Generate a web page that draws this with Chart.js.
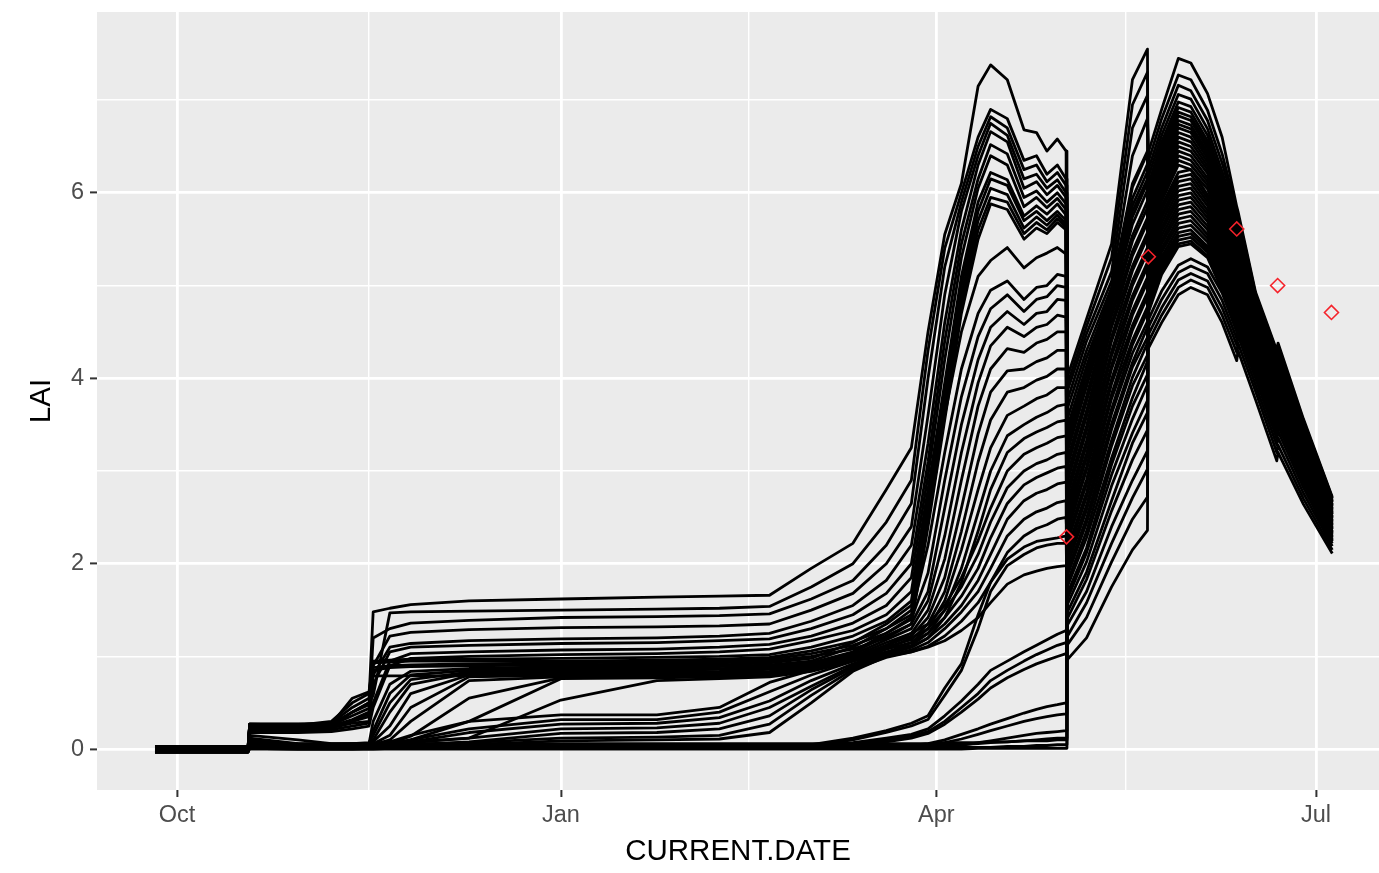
<!DOCTYPE html>
<html>
<head>
<meta charset="utf-8">
<script src="https://cdn.jsdelivr.net/npm/chart.js@4.4.1/dist/chart.umd.min.js"></script>
<style>
  html, body { margin: 0; padding: 0; background: #ffffff; }
  canvas { display: block; }
</style>
</head>
<body>
<canvas id="lai" width="1379" height="873"></canvas>
<script>
// Simulation days, counted from 1 October (day 0)
const autumnDays = [-5.3, 17, 17.4, 29, 37, 42, 46, 47, 51, 56, 70, 92, 115, 130, 142];
const springDays = [152, 162, 170, 176, 180, 184, 188, 192, 195, 199, 203, 206, 208.5, 211, 213.1];
const firstUpdateDays = [213.3, 218, 224, 229, 232.6];
const secondUpdateDays = [232.9, 236, 240, 243, 247, 250.5, 254, 254.3, 258.5, 263.6, 263.9, 270, 276.9];

// LAI of each ensemble member, one row per member, on the day grids above
const autumnLAI = [
  [0.01, 0.01, 0.27, 0.27, 0.28, 0.45, 0.55, 1.48, 1.52, 1.56, 1.60, 1.62, 1.64, 1.65, 1.66],
  [-0.02, -0.02, 0.26, 0.26, 0.27, 0.40, 0.50, 0.58, 1.47, 1.48, 1.49, 1.50, 1.51, 1.52, 1.54],
  [0.02, 0.02, 0.25, 0.25, 0.26, 0.36, 0.44, 1.20, 1.30, 1.36, 1.39, 1.42, 1.43, 1.44, 1.46],
  [-0.03, -0.03, 0.27, 0.26, 0.26, 0.30, 0.35, 0.90, 1.22, 1.26, 1.29, 1.31, 1.32, 1.33, 1.35],
  [0.00, 0.00, 0.24, 0.24, 0.25, 0.32, 0.40, 0.80, 1.10, 1.14, 1.17, 1.19, 1.20, 1.22, 1.25],
  [0.03, 0.03, 0.22, 0.22, 0.23, 0.28, 0.30, 0.70, 1.05, 1.10, 1.12, 1.14, 1.15, 1.17, 1.19],
  [-0.01, -0.01, 0.20, 0.20, 0.21, 0.25, 0.28, 0.50, 0.95, 1.03, 1.05, 1.07, 1.08, 1.10, 1.13],
  [0.02, 0.02, 0.18, 0.18, 0.19, 0.22, 0.25, 0.45, 0.90, 0.98, 1.00, 1.02, 1.03, 1.05, 1.08],
  [-0.02, -0.02, 0.27, 0.27, 0.27, 0.55, 0.62, 0.95, 0.96, 0.97, 0.97, 0.98, 0.99, 1.00, 1.02],
  [0.01, 0.01, 0.26, 0.26, 0.30, 0.50, 0.60, 0.93, 0.94, 0.95, 0.95, 0.95, 0.96, 0.97, 0.99],
  [0.03, 0.03, 0.25, 0.24, 0.25, 0.40, 0.48, 0.88, 0.90, 0.91, 0.92, 0.93, 0.94, 0.95, 0.97],
  [-0.03, -0.03, 0.23, 0.23, 0.24, 0.30, 0.38, 0.85, 0.88, 0.89, 0.90, 0.91, 0.92, 0.93, 0.95],
  [0.02, 0.02, 0.05, 0.04, 0.04, 0.05, 0.06, 0.30, 0.70, 0.84, 0.87, 0.89, 0.90, 0.91, 0.93],
  [0.00, 0.00, 0.02, 0.01, 0.03, 0.04, 0.05, 0.20, 0.60, 0.80, 0.85, 0.87, 0.88, 0.89, 0.91],
  [-0.01, -0.01, 0.15, 0.10, 0.06, 0.06, 0.07, 0.15, 0.50, 0.75, 0.83, 0.85, 0.86, 0.87, 0.89],
  [0.03, 0.03, 0.12, 0.06, 0.05, 0.06, 0.06, 0.10, 0.40, 0.70, 0.82, 0.84, 0.85, 0.86, 0.88],
  [-0.02, -0.02, 0.10, 0.05, 0.05, 0.05, 0.05, 0.08, 0.25, 0.60, 0.80, 0.82, 0.83, 0.84, 0.86],
  [0.01, 0.01, 0.08, 0.03, 0.03, 0.04, 0.04, 0.06, 0.15, 0.45, 0.78, 0.80, 0.81, 0.82, 0.84],
  [0.00, 0.00, 0.27, 0.27, 0.27, 0.40, 0.50, 0.79, 0.79, 0.79, 0.79, 0.79, 0.80, 0.81, 0.83],
  [0.02, 0.02, 0.06, 0.02, 0.03, 0.03, 0.04, 0.05, 0.10, 0.30, 0.74, 0.78, 0.79, 0.80, 0.82],
  [-0.03, -0.03, 0.04, 0.02, 0.03, 0.03, 0.03, 0.04, 0.06, 0.14, 0.55, 0.77, 0.78, 0.79, 0.81],
  [0.03, 0.03, 0.05, 0.04, 0.04, 0.04, 0.04, 0.05, 0.05, 0.10, 0.30, 0.76, 0.77, 0.78, 0.80],
  [0.00, 0.00, 0.05, 0.03, 0.04, 0.04, 0.04, 0.05, 0.06, 0.08, 0.12, 0.53, 0.74, 0.76, 0.78],
  [-0.01, -0.01, 0.04, 0.03, 0.03, 0.03, 0.04, 0.05, 0.08, 0.15, 0.30, 0.37, 0.37, 0.45, 0.72],
  [0.02, 0.02, 0.02, 0.01, 0.02, 0.03, 0.03, 0.04, 0.06, 0.10, 0.22, 0.32, 0.32, 0.40, 0.62],
  [0.01, 0.01, 0.03, 0.02, 0.03, 0.03, 0.03, 0.04, 0.05, 0.08, 0.18, 0.27, 0.28, 0.34, 0.52],
  [-0.02, -0.02, 0.05, 0.04, 0.04, 0.04, 0.04, 0.05, 0.06, 0.07, 0.12, 0.22, 0.23, 0.28, 0.45],
  [0.03, 0.03, 0.03, 0.02, 0.03, 0.03, 0.03, 0.03, 0.04, 0.05, 0.08, 0.17, 0.18, 0.22, 0.36],
  [0.00, 0.00, 0.04, 0.03, 0.04, 0.04, 0.04, 0.04, 0.04, 0.05, 0.07, 0.12, 0.13, 0.15, 0.27],
  [-0.03, -0.03, 0.03, 0.01, 0.02, 0.02, 0.03, 0.03, 0.03, 0.04, 0.05, 0.09, 0.10, 0.11, 0.18],
  [0.02, 0.02, 0.04, 0.02, 0.02, 0.02, 0.02, 0.03, 0.03, 0.03, 0.03, 0.03, 0.03, 0.03, 0.04],
  [-0.01, -0.01, 0.02, 0.01, 0.01, 0.01, 0.01, 0.01, 0.02, 0.02, 0.02, 0.02, 0.02, 0.03, 0.03],
  [0.03, 0.03, 0.06, 0.04, 0.04, 0.04, 0.04, 0.04, 0.04, 0.04, 0.04, 0.04, 0.04, 0.04, 0.05],
  [0.00, 0.00, 0.03, 0.02, 0.02, 0.02, 0.02, 0.02, 0.02, 0.02, 0.02, 0.03, 0.03, 0.03, 0.03],
  [-0.02, -0.02, 0.01, 0.00, 0.00, 0.00, 0.01, 0.01, 0.01, 0.01, 0.01, 0.01, 0.02, 0.02, 0.02],
  [0.01, 0.01, 0.05, 0.03, 0.03, 0.03, 0.03, 0.03, 0.03, 0.03, 0.03, 0.03, 0.03, 0.03, 0.03],
  [0.02, 0.02, 0.02, 0.01, 0.01, 0.01, 0.01, 0.01, 0.01, 0.01, 0.01, 0.02, 0.02, 0.02, 0.02],
  [-0.03, -0.03, 0.01, 0.00, 0.00, 0.00, 0.00, 0.00, 0.01, 0.01, 0.01, 0.01, 0.01, 0.01, 0.01],
  [0.03, 0.03, 0.07, 0.05, 0.05, 0.05, 0.05, 0.05, 0.05, 0.05, 0.05, 0.05, 0.05, 0.05, 0.05],
  [0.00, 0.00, 0.02, 0.01, 0.01, 0.01, 0.01, 0.01, 0.01, 0.01, 0.01, 0.01, 0.01, 0.01, 0.01],
  [0.01, 0.01, 0.08, 0.06, 0.06, 0.06, 0.06, 0.06, 0.06, 0.06, 0.06, 0.06, 0.06, 0.06, 0.06],
  [-0.02, -0.02, 0.00, 0.00, 0.00, 0.00, 0.00, 0.00, 0.00, 0.00, 0.00, 0.00, 0.00, 0.00, 0.00]
];

const springLAI = [
  [1.95, 2.22, 2.80, 3.25, 4.50, 5.55, 6.10, 7.15, 7.38, 7.22, 6.68, 6.65, 6.45, 6.58, 6.45],
  [1.75, 2.00, 2.45, 2.90, 4.30, 5.40, 6.00, 6.60, 6.90, 6.80, 6.35, 6.40, 6.20, 6.30, 6.15],
  [1.62, 1.82, 2.20, 2.65, 4.00, 5.20, 5.90, 6.50, 6.82, 6.70, 6.25, 6.30, 6.12, 6.22, 6.08],
  [1.50, 1.68, 2.00, 2.40, 3.60, 4.90, 5.80, 6.40, 6.75, 6.62, 6.15, 6.20, 6.05, 6.14, 6.00],
  [1.38, 1.55, 1.82, 2.20, 3.30, 4.60, 5.60, 6.30, 6.66, 6.55, 6.05, 6.12, 5.98, 6.08, 5.95],
  [1.30, 1.45, 1.68, 2.00, 3.10, 4.40, 5.45, 6.15, 6.52, 6.42, 5.95, 6.02, 5.90, 6.00, 5.88],
  [1.22, 1.36, 1.55, 1.85, 2.95, 4.20, 5.30, 6.05, 6.40, 6.30, 5.85, 5.95, 5.84, 5.94, 5.82],
  [1.17, 1.28, 1.45, 1.70, 2.80, 3.95, 5.10, 5.90, 6.22, 6.14, 5.75, 5.86, 5.77, 5.88, 5.76],
  [1.10, 1.22, 1.38, 1.60, 2.70, 3.85, 5.00, 5.80, 6.15, 6.08, 5.70, 5.80, 5.70, 5.80, 5.70],
  [1.06, 1.16, 1.30, 1.50, 2.60, 3.75, 4.90, 5.70, 6.05, 5.98, 5.62, 5.74, 5.65, 5.76, 5.66],
  [1.03, 1.12, 1.25, 1.42, 2.50, 3.65, 4.80, 5.60, 5.95, 5.90, 5.56, 5.68, 5.60, 5.72, 5.63],
  [1.00, 1.08, 1.20, 1.35, 2.40, 3.55, 4.70, 5.50, 5.88, 5.82, 5.50, 5.62, 5.56, 5.68, 5.60],
  [0.98, 1.15, 1.35, 1.55, 2.50, 3.60, 4.50, 5.10, 5.27, 5.41, 5.19, 5.30, 5.35, 5.41, 5.34],
  [0.95, 1.10, 1.30, 1.45, 2.20, 3.20, 4.10, 4.70, 4.95, 5.05, 4.85, 4.98, 5.00, 5.12, 5.10],
  [0.93, 1.05, 1.25, 1.40, 1.90, 2.90, 3.80, 4.45, 4.75, 4.90, 4.72, 4.85, 4.88, 5.00, 4.98],
  [0.92, 1.04, 1.22, 1.35, 1.70, 2.60, 3.50, 4.20, 4.55, 4.72, 4.58, 4.70, 4.72, 4.85, 4.84],
  [0.90, 1.02, 1.18, 1.30, 1.60, 2.30, 3.20, 3.95, 4.35, 4.55, 4.45, 4.55, 4.58, 4.68, 4.66],
  [0.89, 1.00, 1.15, 1.25, 1.50, 2.05, 2.90, 3.70, 4.10, 4.32, 4.28, 4.38, 4.42, 4.50, 4.50],
  [0.86, 0.96, 1.05, 1.12, 1.25, 1.50, 1.95, 2.55, 3.00, 3.38, 3.50, 3.58, 3.63, 3.70, 3.72],
  [0.88, 0.98, 1.12, 1.22, 1.42, 1.85, 2.60, 3.40, 3.85, 4.08, 4.10, 4.18, 4.22, 4.30, 4.30],
  [0.87, 0.97, 1.10, 1.18, 1.35, 1.70, 2.35, 3.10, 3.55, 3.85, 3.90, 3.98, 4.02, 4.10, 4.10],
  [0.86, 0.96, 1.08, 1.15, 1.30, 1.60, 2.15, 2.80, 3.25, 3.60, 3.70, 3.78, 3.82, 3.90, 3.90],
  [0.84, 0.95, 1.03, 1.10, 1.20, 1.42, 1.80, 2.35, 2.80, 3.20, 3.35, 3.42, 3.47, 3.53, 3.55],
  [0.85, 0.98, 1.12, 1.25, 1.35, 1.55, 1.85, 2.25, 2.60, 3.00, 3.18, 3.25, 3.30, 3.36, 3.38],
  [0.80, 0.95, 1.08, 1.20, 1.30, 1.50, 1.75, 2.10, 2.45, 2.82, 3.00, 3.08, 3.12, 3.18, 3.20],
  [0.74, 0.92, 1.04, 1.15, 1.25, 1.42, 1.65, 1.95, 2.28, 2.65, 2.85, 2.93, 2.98, 3.03, 3.05],
  [0.68, 0.90, 1.02, 1.10, 1.20, 1.35, 1.55, 1.82, 2.10, 2.48, 2.68, 2.76, 2.80, 2.86, 2.88],
  [0.64, 0.88, 1.00, 1.07, 1.15, 1.30, 1.48, 1.70, 1.95, 2.30, 2.48, 2.56, 2.60, 2.66, 2.68],
  [0.58, 0.86, 0.99, 1.05, 1.11, 1.22, 1.38, 1.58, 1.80, 2.12, 2.30, 2.38, 2.42, 2.48, 2.50],
  [0.50, 0.84, 1.00, 1.05, 1.10, 1.17, 1.28, 1.42, 1.58, 1.78, 1.88, 1.92, 1.95, 1.97, 1.98],
  [0.05, 0.12, 0.20, 0.28, 0.36, 0.66, 0.92, 1.45, 1.80, 2.05, 2.18, 2.24, 2.26, 2.28, 2.30],
  [0.04, 0.10, 0.18, 0.25, 0.32, 0.58, 0.85, 1.30, 1.70, 1.98, 2.10, 2.17, 2.20, 2.22, 2.22],
  [0.05, 0.07, 0.12, 0.16, 0.22, 0.36, 0.52, 0.70, 0.85, 0.95, 1.05, 1.12, 1.18, 1.24, 1.28],
  [0.03, 0.06, 0.10, 0.14, 0.19, 0.30, 0.45, 0.60, 0.74, 0.85, 0.95, 1.02, 1.07, 1.12, 1.15],
  [0.02, 0.05, 0.08, 0.12, 0.17, 0.27, 0.40, 0.54, 0.66, 0.77, 0.86, 0.92, 0.96, 1.00, 1.03],
  [0.03, 0.03, 0.03, 0.04, 0.06, 0.10, 0.16, 0.22, 0.27, 0.33, 0.39, 0.43, 0.46, 0.48, 0.50],
  [0.02, 0.02, 0.02, 0.03, 0.04, 0.07, 0.11, 0.16, 0.20, 0.25, 0.30, 0.33, 0.35, 0.37, 0.38],
  [0.01, 0.01, 0.01, 0.01, 0.02, 0.02, 0.04, 0.07, 0.09, 0.12, 0.15, 0.17, 0.18, 0.19, 0.20],
  [0.05, 0.05, 0.05, 0.05, 0.05, 0.05, 0.05, 0.06, 0.07, 0.08, 0.09, 0.10, 0.11, 0.12, 0.12],
  [0.01, 0.01, 0.01, 0.01, 0.01, 0.01, 0.02, 0.02, 0.02, 0.03, 0.03, 0.04, 0.04, 0.05, 0.05],
  [0.06, 0.06, 0.06, 0.06, 0.06, 0.07, 0.07, 0.07, 0.08, 0.08, 0.09, 0.09, 0.09, 0.10, 0.10],
  [0.00, 0.00, 0.00, 0.00, 0.00, 0.00, 0.00, 0.01, 0.01, 0.01, 0.01, 0.01, 0.01, 0.01, 0.01]
];

// state after the first observation update (2 May) up to the second one
const firstUpdateLAI = [
  [2.33, 3.01, 3.99, 4.68, 5.04],
  [1.40, 1.83, 2.57, 3.12, 3.44],
  [3.85, 4.48, 5.15, 6.70, 7.05],
  [2.87, 3.59, 4.59, 5.32, 5.68],
  [1.79, 2.35, 3.27, 3.92, 4.25],
  [3.27, 3.96, 4.89, 5.74, 6.11],
  [1.12, 1.42, 2.02, 2.48, 2.72],
  [2.15, 2.77, 3.78, 4.41, 4.77],
  [4.00, 4.64, 5.45, 7.22, 7.55],
  [2.58, 3.28, 4.29, 5.00, 5.36],
  [1.61, 2.12, 2.96, 3.56, 3.93],
  [3.03, 3.75, 4.71, 5.48, 5.84],
  [1.97, 2.58, 3.51, 4.17, 4.55],
  [3.46, 4.13, 4.96, 6.06, 6.43],
  [0.96, 1.20, 1.75, 2.15, 2.36],
  [2.45, 3.14, 4.14, 4.84, 5.20],
  [3.66, 4.30, 4.98, 6.10, 6.45],
  [1.74, 2.28, 3.14, 3.79, 4.18],
  [2.79, 3.49, 4.55, 5.21, 5.57],
  [1.33, 1.70, 2.40, 2.90, 3.22],
  [3.19, 3.91, 4.83, 5.66, 6.03],
  [2.09, 2.72, 3.67, 4.36, 4.72],
  [1.55, 2.02, 2.84, 3.41, 3.76],
  [3.92, 4.56, 5.30, 6.95, 7.30],
  [2.65, 3.33, 4.40, 5.05, 5.41],
  [1.86, 2.44, 3.33, 4.01, 4.38],
  [3.41, 4.07, 4.93, 5.94, 6.31],
  [1.21, 1.58, 2.22, 2.71, 3.02],
  [2.27, 2.91, 3.94, 4.57, 4.93],
  [2.95, 3.65, 4.67, 5.37, 5.73],
  [1.67, 2.17, 3.07, 3.70, 4.04],
  [3.55, 4.22, 4.92, 5.80, 6.15],
  [2.52, 3.19, 4.24, 4.89, 5.25],
  [1.91, 2.49, 3.45, 4.12, 4.44],
  [3.33, 4.04, 4.90, 5.86, 6.23],
  [1.47, 1.91, 2.68, 3.30, 3.63],
  [2.40, 3.05, 4.10, 4.73, 5.09],
  [3.11, 3.81, 4.79, 5.54, 5.91],
  [2.04, 2.63, 3.62, 4.27, 4.61],
  [3.75, 4.40, 5.05, 6.40, 6.80],
  [2.72, 3.43, 4.45, 5.16, 5.52],
  [2.22, 2.86, 3.83, 4.52, 4.88]
];

// state after the second observation update (21 May) to the end of the season
const secondUpdateLAI = [
  [5.27, 5.73, 6.07, 6.10, 5.86, 5.46, 5.06, 5.14, 4.42, 3.78, 3.86, 3.16, 2.43],
  [5.97, 6.45, 6.87, 6.82, 6.52, 6.07, 5.63, 5.59, 4.79, 4.16, 4.24, 3.45, 2.64],
  [4.40, 4.68, 4.98, 5.06, 4.98, 4.68, 4.28, 4.38, 3.86, 3.20, 3.28, 2.70, 2.15],
  [4.90, 5.31, 5.62, 5.65, 5.47, 5.10, 4.73, 4.81, 4.22, 3.57, 3.65, 2.99, 2.32],
  [5.60, 6.10, 6.50, 6.45, 6.21, 5.78, 5.35, 5.43, 4.61, 3.97, 4.05, 3.30, 2.54],
  [5.06, 5.49, 5.82, 5.85, 5.64, 5.26, 4.88, 4.96, 4.31, 3.66, 3.74, 3.06, 2.37],
  [6.18, 6.62, 7.06, 7.01, 6.69, 6.23, 5.74, 5.69, 4.86, 4.23, 4.31, 3.50, 2.68],
  [4.76, 5.16, 5.45, 5.48, 5.32, 4.97, 4.59, 4.67, 4.12, 3.47, 3.55, 2.92, 2.26],
  [4.33, 4.60, 4.90, 4.98, 4.90, 4.60, 4.19, 4.30, 3.77, 3.11, 3.20, 2.64, 2.11],
  [5.43, 5.91, 6.30, 6.25, 6.04, 5.63, 5.20, 5.28, 4.52, 3.87, 3.95, 3.23, 2.49],
  [5.78, 6.29, 6.70, 6.65, 6.37, 5.94, 5.49, 5.52, 4.70, 4.06, 4.14, 3.38, 2.59],
  [4.82, 5.23, 5.53, 5.56, 5.39, 5.03, 4.66, 4.74, 4.17, 3.52, 3.60, 2.95, 2.29],
  [5.14, 5.59, 5.92, 5.95, 5.73, 5.34, 4.95, 5.03, 4.35, 3.71, 3.79, 3.10, 2.39],
  [4.98, 5.40, 5.72, 5.75, 5.55, 5.18, 4.80, 4.88, 4.26, 3.62, 3.70, 3.03, 2.34],
  [6.45, 6.90, 7.45, 7.40, 7.07, 6.60, 5.85, 5.80, 4.93, 4.30, 4.38, 3.56, 2.72],
  [5.35, 5.82, 6.17, 6.20, 5.94, 5.54, 5.13, 5.21, 4.47, 3.83, 3.91, 3.19, 2.46],
  [4.56, 4.85, 5.14, 5.21, 5.13, 4.84, 4.43, 4.52, 4.00, 3.35, 3.43, 2.82, 2.22],
  [5.69, 6.19, 6.60, 6.55, 6.29, 5.86, 5.42, 5.48, 4.66, 4.02, 4.10, 3.34, 2.56],
  [5.18, 5.63, 5.97, 6.00, 5.77, 5.38, 4.98, 5.06, 4.38, 3.73, 3.81, 3.12, 2.41],
  [6.03, 6.50, 6.92, 6.87, 6.56, 6.11, 5.67, 5.62, 4.82, 4.18, 4.26, 3.47, 2.66],
  [4.72, 5.12, 5.42, 5.45, 5.30, 4.95, 4.55, 4.63, 4.10, 3.45, 3.53, 2.90, 2.25],
  [5.52, 6.00, 6.40, 6.35, 6.12, 5.70, 5.27, 5.35, 4.56, 3.92, 4.00, 3.27, 2.51],
  [5.86, 6.37, 6.78, 6.73, 6.44, 6.00, 5.56, 5.56, 4.75, 4.11, 4.19, 3.41, 2.62],
  [4.48, 4.76, 5.06, 5.13, 5.05, 4.76, 4.36, 4.46, 3.93, 3.28, 3.36, 2.76, 2.19],
  [5.02, 5.45, 5.77, 5.80, 5.60, 5.22, 4.84, 4.92, 4.28, 3.64, 3.72, 3.05, 2.35],
  [5.47, 5.95, 6.35, 6.30, 6.08, 5.67, 5.24, 5.32, 4.54, 3.90, 3.98, 3.25, 2.50],
  [4.79, 5.19, 5.49, 5.52, 5.36, 5.00, 4.62, 4.70, 4.15, 3.50, 3.58, 2.94, 2.28],
  [6.26, 6.70, 7.16, 7.10, 6.78, 6.32, 5.78, 5.73, 4.89, 4.25, 4.33, 3.52, 2.70],
  [5.31, 5.77, 6.12, 6.15, 5.90, 5.50, 5.09, 5.17, 4.45, 3.80, 3.88, 3.17, 2.45],
  [4.94, 5.36, 5.67, 5.70, 5.51, 5.14, 4.77, 4.85, 4.24, 3.59, 3.67, 3.01, 2.33],
  [5.82, 6.33, 6.74, 6.69, 6.41, 5.97, 5.52, 5.54, 4.73, 4.09, 4.17, 3.39, 2.60],
  [4.64, 4.94, 5.22, 5.29, 5.20, 4.92, 4.50, 4.58, 4.06, 3.41, 3.49, 2.87, 2.24],
  [5.22, 5.68, 6.02, 6.05, 5.81, 5.42, 5.02, 5.10, 4.40, 3.76, 3.84, 3.14, 2.42],
  [5.64, 6.14, 6.55, 6.50, 6.25, 5.82, 5.38, 5.46, 4.63, 3.99, 4.07, 3.32, 2.55],
  [4.86, 5.27, 5.57, 5.60, 5.42, 5.06, 4.69, 4.77, 4.19, 3.54, 3.62, 2.97, 2.30],
  [6.10, 6.55, 6.98, 6.93, 6.62, 6.16, 5.71, 5.66, 4.84, 4.21, 4.29, 3.49, 2.67],
  [5.39, 5.86, 6.22, 6.25, 5.98, 5.58, 5.16, 5.24, 4.49, 3.85, 3.93, 3.21, 2.47],
  [5.10, 5.54, 5.87, 5.90, 5.69, 5.30, 4.91, 4.99, 4.33, 3.69, 3.77, 3.08, 2.38],
  [5.56, 6.05, 6.45, 6.40, 6.16, 5.74, 5.31, 5.39, 4.59, 3.95, 4.03, 3.28, 2.53],
  [6.35, 6.80, 7.27, 7.22, 6.89, 6.42, 5.81, 5.76, 4.91, 4.28, 4.36, 3.54, 2.71],
  [5.73, 6.24, 6.65, 6.60, 6.33, 5.90, 5.45, 5.50, 4.68, 4.04, 4.12, 3.36, 2.58],
  [5.92, 6.42, 6.83, 6.78, 6.48, 6.04, 5.60, 5.58, 4.77, 4.14, 4.22, 3.43, 2.63]
];

// field observations of LAI
const obsDays = [213.2, 232.8, 254, 263.8, 276.7];
const obsLAI = [2.29, 5.31, 5.61, 5.00, 4.71];

// axis breaks
const monthTicks = [0, 92, 182, 273];
const monthLabels = ['Oct', 'Jan', 'Apr', 'Jul'];
const minorMonthTicks = [46, 137, 227.5];
const laiTicks = [0, 2, 4, 6];
const minorLaiTicks = [1, 3, 5, 7];

const FONT = '"Liberation Sans", Arial, Helvetica, sans-serif';

const seasonDays = autumnDays.concat(springDays, firstUpdateDays, secondUpdateDays);

const memberSets = autumnLAI.map((row, i) => {
  const lai = row.concat(springLAI[i], firstUpdateLAI[i], secondUpdateLAI[i]);
  return {
    data: seasonDays.map((d, j) => ({ x: d, y: lai[j] })),
    borderColor: '#000000',
    borderWidth: 2.8,
    borderJoinStyle: 'round',
    borderCapStyle: 'butt',
    pointRadius: 0,
    pointHoverRadius: 0,
    fill: false,
    tension: 0,
    order: 1
  };
});

const obsSet = {
  data: obsDays.map((d, i) => ({ x: d, y: obsLAI[i] })),
  showLine: false,
  pointStyle: 'rectRot',
  pointRadius: 7,
  pointHoverRadius: 7,
  pointBorderWidth: 1.6,
  pointBorderColor: '#F5222A',
  pointBackgroundColor: 'rgba(0,0,0,0)',
  order: 0
};

const panelBackground = {
  id: 'panelBackground',
  beforeDraw(chart) {
    const { ctx, chartArea: a } = chart;
    ctx.save();
    ctx.fillStyle = '#ffffff';
    ctx.fillRect(0, 0, chart.width, chart.height);
    ctx.fillStyle = '#EBEBEB';
    ctx.fillRect(a.left, a.top, a.right - a.left, a.bottom - a.top);
    ctx.restore();
  }
};

const isIn = (list, v) => list.some(t => Math.abs(t - v) < 1e-6);

// keep the panel edges fixed: no extra room reserved for tick labels
const noScalePadding = s => {
  s.paddingTop = 0; s.paddingBottom = 0; s.paddingLeft = 0; s.paddingRight = 0;
};

new Chart(document.getElementById('lai'), {
  type: 'line',
  data: { datasets: [obsSet].concat(memberSets) },
  plugins: [panelBackground],
  options: {
    responsive: false,
    animation: false,
    events: [],
    layout: { autoPadding: false, padding: { top: 12, right: 0, bottom: 0, left: 0 } },
    plugins: { legend: { display: false }, tooltip: { enabled: false } },
    scales: {
      x: {
        type: 'linear',
        min: -19.2,
        max: 288.1,
        afterBuildTicks: s => {
          s.ticks = monthTicks.concat(minorMonthTicks).sort((a, b) => a - b).map(v => ({ value: v }));
        },
        afterFit: s => { s.height = 83; noScalePadding(s); },
        border: { display: false },
        grid: {
          color: '#ffffff',
          lineWidth: c => (c.tick && isIn(monthTicks, c.tick.value)) ? 2.8 : 1.4,
          tickLength: 7,
          tickWidth: 2,
          tickColor: c => (c.tick && isIn(monthTicks, c.tick.value)) ? '#333333' : 'rgba(0,0,0,0)'
        },
        ticks: {
          autoSkip: false,
          maxRotation: 0,
          padding: 4,
          color: '#4D4D4D',
          font: { family: FONT, size: 23.5 },
          callback: v => {
            const i = monthTicks.findIndex(t => Math.abs(t - v) < 1e-6);
            return i >= 0 ? monthLabels[i] : '';
          }
        },
        title: {
          display: true,
          text: 'CURRENT.DATE',
          color: '#000000',
          font: { family: FONT, size: 29.5, lineHeight: 1 },
          padding: { top: 0, bottom: 6 }
        }
      },
      y: {
        type: 'linear',
        min: -0.44,
        max: 7.95,
        afterBuildTicks: s => {
          s.ticks = laiTicks.concat(minorLaiTicks).sort((a, b) => a - b).map(v => ({ value: v }));
        },
        afterFit: s => { s.width = 97; noScalePadding(s); },
        border: { display: false },
        grid: {
          color: '#ffffff',
          lineWidth: c => (c.tick && isIn(laiTicks, c.tick.value)) ? 2.8 : 1.4,
          tickLength: 7,
          tickWidth: 2,
          tickColor: c => (c.tick && isIn(laiTicks, c.tick.value)) ? '#333333' : 'rgba(0,0,0,0)'
        },
        ticks: {
          padding: 6,
          color: '#4D4D4D',
          font: { family: FONT, size: 23.5 },
          callback: v => isIn(laiTicks, v) ? String(v) : ''
        },
        title: {
          display: true,
          text: 'LAI',
          color: '#000000',
          font: { family: FONT, size: 29.5, lineHeight: 1 },
          padding: { top: 27, bottom: 0 }
        }
      }
    }
  }
});
</script>
</body>
</html>
